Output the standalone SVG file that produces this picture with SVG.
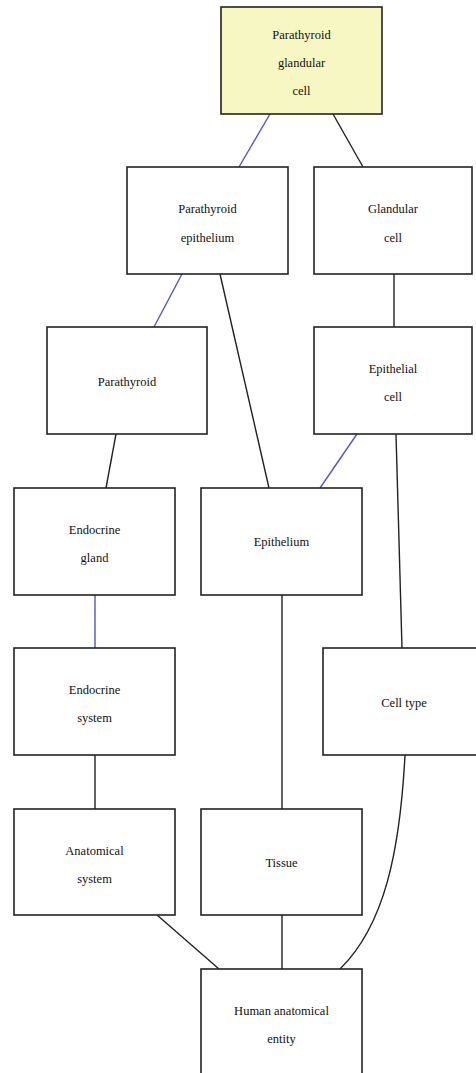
<svg xmlns="http://www.w3.org/2000/svg" width="476" height="1073" viewBox="0 0 476 1073">
<style>
.box{fill:#ffffff;stroke:#222222;stroke-width:1.6}
.hl{fill:#f7f7c4}
.t{font-family:"Liberation Serif","Times New Roman","DejaVu Serif",serif;font-size:12.5px;fill:#111111;text-anchor:middle}
.c{fill:none;stroke:#222222;stroke-width:1.4}
.b{stroke:#5555c8}
</style>
<rect width="476" height="1073" fill="#ffffff"/>
<g id="connectors">
<line class="c b" x1="270" y1="114" x2="239" y2="167"/>
<line class="c" x1="333" y1="114" x2="363" y2="167"/>
<line class="c b" x1="182" y1="274" x2="154" y2="327"/>
<line class="c" x1="220" y1="274" x2="269" y2="488"/>
<line class="c" x1="394" y1="274" x2="394" y2="327"/>
<line class="c" x1="116" y1="434" x2="106" y2="488"/>
<line class="c b" x1="357" y1="434" x2="320" y2="488"/>
<line class="c" x1="396" y1="434" x2="402" y2="648"/>
<line class="c b" x1="95" y1="595" x2="95" y2="648"/>
<line class="c" x1="282" y1="595" x2="282" y2="809"/>
<line class="c" x1="95" y1="755" x2="95" y2="809"/>
<path class="c" d="M405,755 C400,850 385,925 340,969"/>
<line class="c" x1="157" y1="915" x2="219" y2="969"/>
<line class="c" x1="282" y1="915" x2="282" y2="969"/>
</g>
<g id="n1"><rect class="box hl" x="221" y="7" width="161" height="107"/><text class="t" x="301.5" y="39">Parathyroid</text><text class="t" x="301.5" y="67">glandular</text><text class="t" x="301.5" y="95">cell</text></g>
<g id="n2"><rect class="box" x="127" y="167" width="161" height="107"/><text class="t" x="207.5" y="213">Parathyroid</text><text class="t" x="207.5" y="242">epithelium</text></g>
<g id="n3"><rect class="box" x="314" y="167" width="158" height="107"/><text class="t" x="393" y="213">Glandular</text><text class="t" x="393" y="242">cell</text></g>
<g id="n4"><rect class="box" x="47" y="327" width="160" height="107"/><text class="t" x="127" y="386">Parathyroid</text></g>
<g id="n5"><rect class="box" x="314" y="327" width="158" height="107"/><text class="t" x="393" y="373">Epithelial</text><text class="t" x="393" y="401">cell</text></g>
<g id="n6"><rect class="box" x="14" y="488" width="161" height="107"/><text class="t" x="94.5" y="534">Endocrine</text><text class="t" x="94.5" y="562">gland</text></g>
<g id="n7"><rect class="box" x="201" y="488" width="161" height="107"/><text class="t" x="281.5" y="546">Epithelium</text></g>
<g id="n8"><rect class="box" x="14" y="648" width="161" height="107"/><text class="t" x="94.5" y="694">Endocrine</text><text class="t" x="94.5" y="722">system</text></g>
<g id="n9"><rect class="box" x="323" y="648" width="161" height="107"/><text class="t" x="404" y="707">Cell type</text></g>
<g id="n10"><rect class="box" x="14" y="809" width="161" height="106"/><text class="t" x="94.5" y="855">Anatomical</text><text class="t" x="94.5" y="883">system</text></g>
<g id="n11"><rect class="box" x="201" y="809" width="161" height="106"/><text class="t" x="281.5" y="867">Tissue</text></g>
<g id="n12"><rect class="box" x="201" y="969" width="161" height="107"/><text class="t" x="281.5" y="1015">Human anatomical</text><text class="t" x="281.5" y="1043">entity</text></g>
</svg>
